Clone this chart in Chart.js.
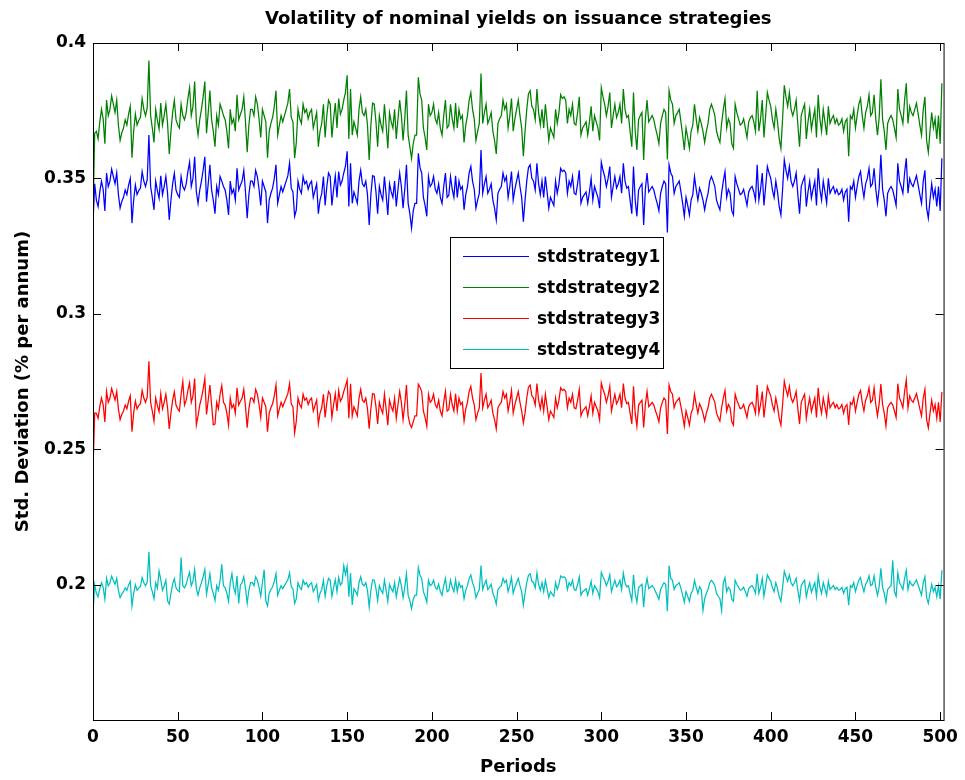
<!DOCTYPE html>
<html>
<head>
<meta charset="utf-8">
<title>Volatility of nominal yields on issuance strategies</title>
<script src="https://cdn.jsdelivr.net/npm/chart.js@4.4.1/dist/chart.umd.min.js"></script>
<style>
  html, body { margin: 0; padding: 0; background: #fff; }
  canvas { display: block; }
</style>
</head>
<body>
<canvas id="chart" width="965" height="780"></canvas>
<script>
// Valores: desvio padrão (% ao ano), um valor por período (0..501)
const stdstrategy1 = [
  0.3335, 0.3480, 0.3420, 0.3396, 0.3450, 0.3490, 0.3460, 0.3380, 0.3520, 0.3470,
  0.3490, 0.3534, 0.3507, 0.3480, 0.3520, 0.3440, 0.3390, 0.3415, 0.3430, 0.3457,
  0.3440, 0.3475, 0.3500, 0.3335, 0.3420, 0.3476, 0.3440, 0.3455, 0.3464, 0.3525,
  0.3490, 0.3470, 0.3495, 0.3660, 0.3470, 0.3430, 0.3384, 0.3490, 0.3455, 0.3427,
  0.3510, 0.3440, 0.3470, 0.3507, 0.3445, 0.3347, 0.3420, 0.3480, 0.3519, 0.3457,
  0.3440, 0.3430, 0.3507, 0.3470, 0.3457, 0.3480, 0.3525, 0.3560, 0.3470, 0.3500,
  0.3580, 0.3450, 0.3408, 0.3457, 0.3490, 0.3530, 0.3580, 0.3414, 0.3480, 0.3550,
  0.3457, 0.3420, 0.3370, 0.3470, 0.3440, 0.3507, 0.3490, 0.3470, 0.3457, 0.3420,
  0.3365, 0.3490, 0.3445, 0.3460, 0.3420, 0.3537, 0.3457, 0.3475, 0.3490, 0.3530,
  0.3450, 0.3353, 0.3440, 0.3490, 0.3490, 0.3470, 0.3530, 0.3507, 0.3460, 0.3400,
  0.3490, 0.3470, 0.3450, 0.3335, 0.3420, 0.3445, 0.3464, 0.3500, 0.3550, 0.3408,
  0.3440, 0.3470, 0.3450, 0.3470, 0.3490, 0.3510, 0.3556, 0.3464, 0.3450, 0.3360,
  0.3384, 0.3490, 0.3460, 0.3445, 0.3507, 0.3480, 0.3490, 0.3460, 0.3480, 0.3490,
  0.3430, 0.3455, 0.3480, 0.3370, 0.3420, 0.3445, 0.3507, 0.3400, 0.3470, 0.3520,
  0.3507, 0.3400, 0.3460, 0.3510, 0.3430, 0.3525, 0.3475, 0.3490, 0.3520, 0.3545,
  0.3600, 0.3396, 0.3556, 0.3408, 0.3450, 0.3430, 0.3408, 0.3490, 0.3530, 0.3480,
  0.3470, 0.3490, 0.3440, 0.3328, 0.3440, 0.3510, 0.3507, 0.3450, 0.3370, 0.3470,
  0.3440, 0.3420, 0.3507, 0.3440, 0.3365, 0.3480, 0.3450, 0.3430, 0.3490, 0.3396,
  0.3460, 0.3520, 0.3470, 0.3390, 0.3460, 0.3550, 0.3408, 0.3370, 0.3316, 0.3380,
  0.3408, 0.3408, 0.3593, 0.3540, 0.3520, 0.3430, 0.3400, 0.3360, 0.3507, 0.3470,
  0.3480, 0.3507, 0.3460, 0.3445, 0.3480, 0.3430, 0.3408, 0.3470, 0.3520, 0.3430,
  0.3438, 0.3507, 0.3460, 0.3430, 0.3510, 0.3430, 0.3490, 0.3460, 0.3470, 0.3384,
  0.3440, 0.3470, 0.3520, 0.3544, 0.3490, 0.3460, 0.3390, 0.3420, 0.3445, 0.3605,
  0.3445, 0.3480, 0.3507, 0.3445, 0.3460, 0.3480, 0.3420, 0.3390, 0.3347, 0.3445,
  0.3460, 0.3470, 0.3520, 0.3490, 0.3507, 0.3430, 0.3470, 0.3525, 0.3420, 0.3460,
  0.3490, 0.3520, 0.3470, 0.3430, 0.3340, 0.3420, 0.3490, 0.3540, 0.3550, 0.3500,
  0.3490, 0.3457, 0.3556, 0.3480, 0.3440, 0.3490, 0.3430, 0.3507, 0.3450, 0.3390,
  0.3430, 0.3415, 0.3400, 0.3490, 0.3445, 0.3480, 0.3537, 0.3525, 0.3530, 0.3520,
  0.3445, 0.3490, 0.3470, 0.3507, 0.3445, 0.3440, 0.3480, 0.3530, 0.3408, 0.3430,
  0.3440, 0.3450, 0.3408, 0.3450, 0.3500, 0.3420, 0.3470, 0.3450, 0.3430, 0.3390,
  0.3560, 0.3530, 0.3507, 0.3470, 0.3500, 0.3544, 0.3430, 0.3470, 0.3507, 0.3464,
  0.3480, 0.3507, 0.3445, 0.3556, 0.3490, 0.3464, 0.3470, 0.3420, 0.3370, 0.3544,
  0.3420, 0.3360, 0.3457, 0.3470, 0.3480, 0.3328, 0.3460, 0.3520, 0.3450, 0.3460,
  0.3470, 0.3457, 0.3430, 0.3408, 0.3380, 0.3445, 0.3470, 0.3490, 0.3480, 0.3300,
  0.3550, 0.3520, 0.3507, 0.3445, 0.3470, 0.3480, 0.3490, 0.3450, 0.3408, 0.3360,
  0.3430, 0.3400, 0.3365, 0.3420, 0.3440, 0.3507, 0.3460, 0.3420, 0.3464, 0.3445,
  0.3420, 0.3384, 0.3420, 0.3445, 0.3490, 0.3507, 0.3490, 0.3470, 0.3420, 0.3400,
  0.3384, 0.3445, 0.3490, 0.3525, 0.3430, 0.3460, 0.3445, 0.3380, 0.3365, 0.3507,
  0.3480, 0.3460, 0.3440, 0.3445, 0.3460, 0.3430, 0.3400, 0.3450, 0.3464, 0.3470,
  0.3450, 0.3420, 0.3550, 0.3420, 0.3460, 0.3520, 0.3400, 0.3470, 0.3544, 0.3520,
  0.3500, 0.3457, 0.3430, 0.3490, 0.3450, 0.3396, 0.3365, 0.3460, 0.3568, 0.3530,
  0.3500, 0.3544, 0.3490, 0.3470, 0.3490, 0.3520, 0.3440, 0.3370, 0.3470, 0.3490,
  0.3507, 0.3396, 0.3450, 0.3490, 0.3427, 0.3460, 0.3490, 0.3400, 0.3537, 0.3460,
  0.3420, 0.3490, 0.3450, 0.3408, 0.3500, 0.3445, 0.3460, 0.3470, 0.3445, 0.3460,
  0.3440, 0.3445, 0.3460, 0.3420, 0.3450, 0.3460, 0.3340, 0.3470, 0.3460, 0.3490,
  0.3430, 0.3470, 0.3507, 0.3525, 0.3470, 0.3430, 0.3480, 0.3500, 0.3537, 0.3470,
  0.3480, 0.3537, 0.3460, 0.3408, 0.3464, 0.3587, 0.3460, 0.3420, 0.3360, 0.3445,
  0.3460, 0.3470, 0.3457, 0.3430, 0.3400, 0.3556, 0.3490, 0.3470, 0.3445, 0.3520,
  0.3574, 0.3445, 0.3500, 0.3480, 0.3470, 0.3490, 0.3510, 0.3476, 0.3440, 0.3408,
  0.3490, 0.3530, 0.3390, 0.3353, 0.3420, 0.3480, 0.3430, 0.3460, 0.3396, 0.3470,
  0.3380, 0.3574
];

const stdstrategy2 = [
  0.3360, 0.3667, 0.3674, 0.3646, 0.3709, 0.3755, 0.3720, 0.3628, 0.3789, 0.3732,
  0.3755, 0.3805, 0.3774, 0.3743, 0.3789, 0.3697, 0.3640, 0.3668, 0.3686, 0.3717,
  0.3697, 0.3737, 0.3766, 0.3576, 0.3674, 0.3738, 0.3697, 0.3714, 0.3725, 0.3795,
  0.3755, 0.3732, 0.3760, 0.3935, 0.3732, 0.3686, 0.3633, 0.3755, 0.3714, 0.3682,
  0.3778, 0.3697, 0.3732, 0.3774, 0.3703, 0.3590, 0.3674, 0.3743, 0.3788, 0.3717,
  0.3697, 0.3686, 0.3774, 0.3732, 0.3717, 0.3743, 0.3795, 0.3835, 0.3732, 0.3766,
  0.3858, 0.3709, 0.3660, 0.3717, 0.3755, 0.3801, 0.3858, 0.3667, 0.3743, 0.3824,
  0.3717, 0.3674, 0.3617, 0.3732, 0.3697, 0.3774, 0.3755, 0.3732, 0.3717, 0.3674,
  0.3611, 0.3755, 0.3703, 0.3720, 0.3674, 0.3809, 0.3717, 0.3737, 0.3755, 0.3801,
  0.3709, 0.3597, 0.3697, 0.3755, 0.3755, 0.3732, 0.3801, 0.3774, 0.3720, 0.3651,
  0.3755, 0.3732, 0.3709, 0.3576, 0.3674, 0.3703, 0.3725, 0.3766, 0.3824, 0.3660,
  0.3697, 0.3732, 0.3709, 0.3732, 0.3755, 0.3778, 0.3830, 0.3725, 0.3709, 0.3575,
  0.3633, 0.3755, 0.3720, 0.3703, 0.3774, 0.3743, 0.3755, 0.3720, 0.3743, 0.3755,
  0.3686, 0.3714, 0.3743, 0.3617, 0.3674, 0.3703, 0.3774, 0.3651, 0.3732, 0.3789,
  0.3774, 0.3651, 0.3720, 0.3778, 0.3686, 0.3795, 0.3737, 0.3755, 0.3789, 0.3818,
  0.3881, 0.3646, 0.3830, 0.3660, 0.3709, 0.3686, 0.3660, 0.3755, 0.3801, 0.3743,
  0.3732, 0.3755, 0.3697, 0.3568, 0.3697, 0.3778, 0.3774, 0.3709, 0.3617, 0.3732,
  0.3697, 0.3674, 0.3774, 0.3697, 0.3611, 0.3743, 0.3709, 0.3686, 0.3755, 0.3646,
  0.3720, 0.3789, 0.3732, 0.3640, 0.3720, 0.3824, 0.3660, 0.3617, 0.3574, 0.3628,
  0.3660, 0.3660, 0.3873, 0.3812, 0.3789, 0.3686, 0.3651, 0.3605, 0.3774, 0.3732,
  0.3743, 0.3774, 0.3720, 0.3703, 0.3743, 0.3686, 0.3660, 0.3732, 0.3789, 0.3686,
  0.3695, 0.3774, 0.3720, 0.3686, 0.3778, 0.3686, 0.3755, 0.3720, 0.3732, 0.3633,
  0.3697, 0.3732, 0.3789, 0.3817, 0.3755, 0.3720, 0.3640, 0.3674, 0.3703, 0.3887,
  0.3703, 0.3743, 0.3774, 0.3703, 0.3720, 0.3743, 0.3674, 0.3640, 0.3590, 0.3703,
  0.3720, 0.3732, 0.3789, 0.3755, 0.3774, 0.3686, 0.3732, 0.3795, 0.3674, 0.3720,
  0.3755, 0.3789, 0.3732, 0.3686, 0.3582, 0.3674, 0.3755, 0.3812, 0.3824, 0.3766,
  0.3755, 0.3717, 0.3830, 0.3743, 0.3697, 0.3755, 0.3686, 0.3774, 0.3709, 0.3640,
  0.3686, 0.3668, 0.3651, 0.3755, 0.3703, 0.3743, 0.3809, 0.3795, 0.3801, 0.3789,
  0.3703, 0.3755, 0.3732, 0.3774, 0.3703, 0.3697, 0.3743, 0.3801, 0.3660, 0.3686,
  0.3697, 0.3709, 0.3660, 0.3709, 0.3766, 0.3674, 0.3732, 0.3709, 0.3686, 0.3640,
  0.3835, 0.3801, 0.3774, 0.3732, 0.3766, 0.3817, 0.3686, 0.3732, 0.3774, 0.3725,
  0.3743, 0.3774, 0.3703, 0.3830, 0.3755, 0.3725, 0.3732, 0.3674, 0.3617, 0.3817,
  0.3674, 0.3605, 0.3717, 0.3732, 0.3743, 0.3568, 0.3720, 0.3789, 0.3709, 0.3720,
  0.3732, 0.3717, 0.3686, 0.3660, 0.3628, 0.3703, 0.3732, 0.3755, 0.3743, 0.3570,
  0.3824, 0.3789, 0.3774, 0.3703, 0.3732, 0.3743, 0.3755, 0.3709, 0.3660, 0.3605,
  0.3686, 0.3651, 0.3611, 0.3674, 0.3697, 0.3774, 0.3720, 0.3674, 0.3725, 0.3703,
  0.3674, 0.3633, 0.3674, 0.3703, 0.3755, 0.3774, 0.3755, 0.3732, 0.3674, 0.3651,
  0.3633, 0.3703, 0.3755, 0.3795, 0.3686, 0.3720, 0.3703, 0.3628, 0.3611, 0.3774,
  0.3743, 0.3720, 0.3697, 0.3703, 0.3720, 0.3686, 0.3651, 0.3709, 0.3725, 0.3732,
  0.3709, 0.3674, 0.3824, 0.3674, 0.3720, 0.3789, 0.3651, 0.3732, 0.3817, 0.3789,
  0.3766, 0.3717, 0.3686, 0.3755, 0.3709, 0.3646, 0.3611, 0.3720, 0.3844, 0.3801,
  0.3766, 0.3817, 0.3755, 0.3732, 0.3755, 0.3789, 0.3697, 0.3617, 0.3732, 0.3755,
  0.3774, 0.3646, 0.3709, 0.3755, 0.3682, 0.3720, 0.3755, 0.3651, 0.3809, 0.3720,
  0.3674, 0.3755, 0.3709, 0.3660, 0.3766, 0.3703, 0.3720, 0.3732, 0.3703, 0.3720,
  0.3697, 0.3703, 0.3720, 0.3674, 0.3709, 0.3720, 0.3582, 0.3732, 0.3720, 0.3755,
  0.3686, 0.3732, 0.3774, 0.3795, 0.3732, 0.3686, 0.3743, 0.3766, 0.3809, 0.3732,
  0.3743, 0.3809, 0.3720, 0.3660, 0.3725, 0.3866, 0.3720, 0.3674, 0.3605, 0.3703,
  0.3720, 0.3732, 0.3717, 0.3686, 0.3651, 0.3830, 0.3755, 0.3732, 0.3703, 0.3789,
  0.3851, 0.3703, 0.3766, 0.3743, 0.3732, 0.3755, 0.3778, 0.3738, 0.3697, 0.3660,
  0.3755, 0.3801, 0.3640, 0.3597, 0.3674, 0.3743, 0.3686, 0.3720, 0.3646, 0.3732,
  0.3628, 0.3851
];

const stdstrategy3 = [
  0.2425, 0.2634, 0.2633, 0.2614, 0.2657, 0.2689, 0.2665, 0.2601, 0.2713, 0.2673,
  0.2689, 0.2724, 0.2703, 0.2681, 0.2713, 0.2649, 0.2609, 0.2629, 0.2641, 0.2663,
  0.2649, 0.2677, 0.2697, 0.2565, 0.2633, 0.2678, 0.2649, 0.2661, 0.2668, 0.2717,
  0.2689, 0.2673, 0.2693, 0.2825, 0.2673, 0.2641, 0.2604, 0.2689, 0.2661, 0.2639,
  0.2705, 0.2649, 0.2673, 0.2703, 0.2653, 0.2575, 0.2633, 0.2681, 0.2712, 0.2663,
  0.2649, 0.2641, 0.2703, 0.2750, 0.2663, 0.2681, 0.2717, 0.2745, 0.2673, 0.2697,
  0.2761, 0.2590, 0.2623, 0.2663, 0.2689, 0.2721, 0.2761, 0.2628, 0.2681, 0.2737,
  0.2663, 0.2590, 0.2593, 0.2673, 0.2649, 0.2703, 0.2735, 0.2673, 0.2663, 0.2633,
  0.2589, 0.2689, 0.2653, 0.2665, 0.2633, 0.2727, 0.2663, 0.2677, 0.2689, 0.2721,
  0.2657, 0.2579, 0.2649, 0.2689, 0.2689, 0.2673, 0.2721, 0.2703, 0.2665, 0.2617,
  0.2689, 0.2673, 0.2657, 0.2565, 0.2633, 0.2653, 0.2668, 0.2697, 0.2737, 0.2623,
  0.2649, 0.2673, 0.2657, 0.2673, 0.2689, 0.2705, 0.2742, 0.2668, 0.2657, 0.2560,
  0.2604, 0.2689, 0.2665, 0.2653, 0.2703, 0.2681, 0.2689, 0.2665, 0.2681, 0.2689,
  0.2641, 0.2661, 0.2681, 0.2593, 0.2633, 0.2653, 0.2703, 0.2617, 0.2673, 0.2713,
  0.2703, 0.2617, 0.2665, 0.2705, 0.2641, 0.2717, 0.2677, 0.2689, 0.2713, 0.2733,
  0.2755, 0.2614, 0.2742, 0.2623, 0.2657, 0.2641, 0.2623, 0.2689, 0.2721, 0.2681,
  0.2673, 0.2689, 0.2649, 0.2576, 0.2649, 0.2705, 0.2703, 0.2657, 0.2593, 0.2673,
  0.2649, 0.2633, 0.2703, 0.2649, 0.2589, 0.2681, 0.2657, 0.2641, 0.2689, 0.2614,
  0.2665, 0.2713, 0.2673, 0.2609, 0.2665, 0.2737, 0.2623, 0.2593, 0.2580, 0.2601,
  0.2623, 0.2623, 0.2740, 0.2729, 0.2713, 0.2641, 0.2617, 0.2585, 0.2703, 0.2673,
  0.2681, 0.2703, 0.2665, 0.2653, 0.2681, 0.2641, 0.2623, 0.2673, 0.2713, 0.2641,
  0.2647, 0.2703, 0.2665, 0.2641, 0.2705, 0.2641, 0.2689, 0.2665, 0.2673, 0.2604,
  0.2649, 0.2673, 0.2713, 0.2732, 0.2689, 0.2665, 0.2609, 0.2633, 0.2653, 0.2781,
  0.2653, 0.2681, 0.2703, 0.2653, 0.2665, 0.2681, 0.2633, 0.2609, 0.2575, 0.2653,
  0.2665, 0.2673, 0.2713, 0.2689, 0.2703, 0.2641, 0.2673, 0.2717, 0.2633, 0.2665,
  0.2689, 0.2713, 0.2673, 0.2641, 0.2597, 0.2633, 0.2689, 0.2729, 0.2737, 0.2697,
  0.2689, 0.2663, 0.2742, 0.2681, 0.2649, 0.2689, 0.2641, 0.2703, 0.2657, 0.2609,
  0.2641, 0.2629, 0.2617, 0.2689, 0.2653, 0.2681, 0.2727, 0.2717, 0.2721, 0.2713,
  0.2653, 0.2689, 0.2673, 0.2703, 0.2653, 0.2649, 0.2681, 0.2721, 0.2623, 0.2641,
  0.2649, 0.2657, 0.2623, 0.2657, 0.2697, 0.2633, 0.2673, 0.2657, 0.2641, 0.2609,
  0.2745, 0.2721, 0.2703, 0.2673, 0.2697, 0.2732, 0.2641, 0.2673, 0.2703, 0.2668,
  0.2681, 0.2703, 0.2653, 0.2742, 0.2689, 0.2668, 0.2673, 0.2633, 0.2593, 0.2732,
  0.2633, 0.2585, 0.2663, 0.2673, 0.2681, 0.2580, 0.2665, 0.2713, 0.2657, 0.2665,
  0.2673, 0.2663, 0.2641, 0.2623, 0.2601, 0.2653, 0.2673, 0.2689, 0.2681, 0.2556,
  0.2737, 0.2713, 0.2703, 0.2653, 0.2673, 0.2681, 0.2689, 0.2657, 0.2623, 0.2585,
  0.2641, 0.2617, 0.2589, 0.2633, 0.2649, 0.2703, 0.2665, 0.2633, 0.2668, 0.2653,
  0.2633, 0.2604, 0.2633, 0.2653, 0.2689, 0.2703, 0.2689, 0.2673, 0.2633, 0.2617,
  0.2604, 0.2653, 0.2689, 0.2717, 0.2641, 0.2665, 0.2653, 0.2601, 0.2589, 0.2703,
  0.2681, 0.2665, 0.2649, 0.2653, 0.2665, 0.2641, 0.2617, 0.2657, 0.2668, 0.2673,
  0.2657, 0.2633, 0.2737, 0.2633, 0.2665, 0.2713, 0.2617, 0.2673, 0.2732, 0.2713,
  0.2697, 0.2663, 0.2641, 0.2689, 0.2657, 0.2614, 0.2589, 0.2665, 0.2751, 0.2721,
  0.2697, 0.2732, 0.2689, 0.2673, 0.2689, 0.2713, 0.2649, 0.2593, 0.2673, 0.2689,
  0.2703, 0.2614, 0.2657, 0.2689, 0.2639, 0.2665, 0.2689, 0.2617, 0.2727, 0.2665,
  0.2633, 0.2689, 0.2657, 0.2623, 0.2697, 0.2653, 0.2665, 0.2673, 0.2653, 0.2665,
  0.2649, 0.2653, 0.2665, 0.2633, 0.2657, 0.2665, 0.2590, 0.2673, 0.2665, 0.2689,
  0.2641, 0.2673, 0.2703, 0.2717, 0.2673, 0.2641, 0.2681, 0.2697, 0.2727, 0.2673,
  0.2681, 0.2727, 0.2665, 0.2623, 0.2668, 0.2741, 0.2665, 0.2633, 0.2585, 0.2653,
  0.2665, 0.2673, 0.2663, 0.2641, 0.2617, 0.2742, 0.2689, 0.2673, 0.2653, 0.2713,
  0.2756, 0.2653, 0.2697, 0.2681, 0.2673, 0.2689, 0.2705, 0.2678, 0.2649, 0.2623,
  0.2689, 0.2721, 0.2609, 0.2579, 0.2633, 0.2681, 0.2641, 0.2665, 0.2614, 0.2673,
  0.2601, 0.2711
];

const stdstrategy4 = [
  0.1896, 0.2000, 0.1968, 0.1955, 0.1985, 0.2007, 0.1990, 0.1946, 0.2023, 0.1996,
  0.2007, 0.2031, 0.2016, 0.2001, 0.2023, 0.1979, 0.1952, 0.1965, 0.1974, 0.1988,
  0.1979, 0.1998, 0.2012, 0.1921, 0.1968, 0.1999, 0.1979, 0.1987, 0.1992, 0.2026,
  0.2007, 0.1996, 0.2009, 0.2120, 0.1996, 0.1974, 0.1948, 0.2007, 0.1987, 0.2050,
  0.2018, 0.1979, 0.1996, 0.2016, 0.1940, 0.1928, 0.1968, 0.2001, 0.2022, 0.1988,
  0.1979, 0.1974, 0.2100, 0.1996, 0.1988, 0.2001, 0.2026, 0.2045, 0.1996, 0.2012,
  0.2056, 0.1985, 0.1961, 0.1988, 0.2007, 0.2029, 0.2056, 0.1965, 0.2001, 0.2040,
  0.1988, 0.1968, 0.1941, 0.1996, 0.1979, 0.2016, 0.2075, 0.1996, 0.1988, 0.1968,
  0.1938, 0.2007, 0.2040, 0.1990, 0.1968, 0.2032, 0.1930, 0.1998, 0.2007, 0.2029,
  0.1985, 0.1931, 0.1979, 0.2007, 0.2007, 0.1996, 0.2029, 0.2016, 0.1990, 0.1957,
  0.2007, 0.2055, 0.1940, 0.1921, 0.1968, 0.1982, 0.1992, 0.2012, 0.2040, 0.1961,
  0.1979, 0.1996, 0.1985, 0.1996, 0.2007, 0.2018, 0.2043, 0.1992, 0.1985, 0.1930,
  0.1948, 0.2007, 0.1990, 0.1982, 0.2016, 0.2001, 0.2007, 0.1990, 0.2001, 0.2007,
  0.1974, 0.1987, 0.2001, 0.1941, 0.1968, 0.1982, 0.2016, 0.1957, 0.1996, 0.2023,
  0.2016, 0.1957, 0.1990, 0.2018, 0.1974, 0.2026, 0.1998, 0.2007, 0.2070, 0.2037,
  0.2067, 0.1955, 0.2043, 0.1925, 0.1985, 0.1974, 0.1961, 0.2007, 0.2029, 0.2001,
  0.1996, 0.2007, 0.1979, 0.1917, 0.1979, 0.2018, 0.2016, 0.1985, 0.1941, 0.1996,
  0.1979, 0.1968, 0.2016, 0.1979, 0.1938, 0.2001, 0.1985, 0.1974, 0.2007, 0.1955,
  0.1990, 0.2023, 0.1996, 0.1952, 0.1990, 0.2040, 0.1961, 0.1941, 0.1911, 0.1946,
  0.1961, 0.1961, 0.2063, 0.2034, 0.2023, 0.1974, 0.1957, 0.1935, 0.2016, 0.1996,
  0.2001, 0.2016, 0.1990, 0.1982, 0.2001, 0.1974, 0.1961, 0.1996, 0.2023, 0.1974,
  0.1978, 0.2016, 0.1990, 0.1974, 0.2018, 0.1974, 0.2007, 0.1990, 0.1996, 0.1948,
  0.1979, 0.1996, 0.2023, 0.2036, 0.2007, 0.1990, 0.1952, 0.1968, 0.1982, 0.2070,
  0.1982, 0.2001, 0.2016, 0.1982, 0.1990, 0.2001, 0.1968, 0.1952, 0.1928, 0.1982,
  0.1990, 0.1996, 0.2023, 0.2007, 0.2016, 0.1974, 0.1996, 0.2026, 0.1968, 0.1990,
  0.2007, 0.2023, 0.1996, 0.1974, 0.1924, 0.1968, 0.2007, 0.2034, 0.2040, 0.2012,
  0.2007, 0.1988, 0.2043, 0.2001, 0.1979, 0.2007, 0.1974, 0.2016, 0.1985, 0.1952,
  0.1974, 0.1965, 0.1957, 0.2007, 0.1982, 0.2001, 0.2032, 0.2026, 0.2029, 0.2023,
  0.1982, 0.2007, 0.1996, 0.2016, 0.1982, 0.1979, 0.2001, 0.2029, 0.1961, 0.1974,
  0.1979, 0.1985, 0.1961, 0.1985, 0.2012, 0.1968, 0.1996, 0.1985, 0.1974, 0.1952,
  0.2045, 0.2029, 0.2016, 0.1996, 0.2012, 0.2036, 0.1974, 0.1996, 0.2016, 0.1992,
  0.2001, 0.2016, 0.1982, 0.2043, 0.2007, 0.1992, 0.1996, 0.1968, 0.1941, 0.2036,
  0.1968, 0.1935, 0.1988, 0.1996, 0.2001, 0.1917, 0.1990, 0.2023, 0.1985, 0.1990,
  0.1996, 0.1988, 0.1974, 0.1961, 0.1946, 0.1982, 0.1996, 0.2007, 0.2001, 0.1902,
  0.2070, 0.2023, 0.2016, 0.1982, 0.1996, 0.2001, 0.2007, 0.1985, 0.1961, 0.1935,
  0.1974, 0.1957, 0.1938, 0.1968, 0.1979, 0.2016, 0.1990, 0.1968, 0.1992, 0.1982,
  0.1905, 0.1948, 0.1968, 0.1982, 0.2007, 0.2016, 0.2007, 0.1996, 0.1968, 0.1957,
  0.1948, 0.1905, 0.2007, 0.2026, 0.1974, 0.1990, 0.1982, 0.1946, 0.1938, 0.2016,
  0.2001, 0.1990, 0.1979, 0.1982, 0.1990, 0.1974, 0.1957, 0.1985, 0.1992, 0.1996,
  0.1985, 0.1968, 0.2040, 0.1968, 0.1990, 0.2023, 0.1957, 0.1996, 0.2036, 0.2023,
  0.2012, 0.1988, 0.1974, 0.2007, 0.1985, 0.1955, 0.1938, 0.1990, 0.2049, 0.2029,
  0.2012, 0.2036, 0.2007, 0.1996, 0.2007, 0.2023, 0.1979, 0.1941, 0.1996, 0.2007,
  0.2016, 0.1955, 0.1985, 0.2007, 0.1972, 0.1990, 0.2007, 0.1957, 0.2032, 0.1990,
  0.1968, 0.2007, 0.1985, 0.1961, 0.2012, 0.1982, 0.1990, 0.1996, 0.1982, 0.1990,
  0.1979, 0.1982, 0.1990, 0.1968, 0.1985, 0.1990, 0.1924, 0.1996, 0.1990, 0.2007,
  0.1974, 0.1996, 0.2016, 0.2026, 0.1996, 0.1974, 0.2001, 0.2012, 0.2032, 0.1996,
  0.2001, 0.2032, 0.1990, 0.1961, 0.1992, 0.2060, 0.1990, 0.1968, 0.1935, 0.1982,
  0.1990, 0.1996, 0.2090, 0.1974, 0.1957, 0.2043, 0.2007, 0.1996, 0.1982, 0.2023,
  0.2053, 0.1982, 0.2012, 0.2001, 0.1996, 0.2007, 0.2018, 0.1999, 0.1979, 0.1961,
  0.2007, 0.2029, 0.1952, 0.1931, 0.1968, 0.2001, 0.1974, 0.1990, 0.1955, 0.1996,
  0.1946, 0.2053
];

const seriesNames = ['stdstrategy1', 'stdstrategy2', 'stdstrategy3', 'stdstrategy4'];
const xTicks = [0, 50, 100, 150, 200, 250, 300, 350, 400, 450, 500];
const yTicks = [0.2, 0.25, 0.3, 0.35, 0.4];

const FONT = 'DejaVu Sans';
Chart.defaults.font.family = FONT;
Chart.defaults.color = '#000';

// Converte uma série em pontos {x: período, y: valor}
function toPoints(values) {
    return values.map((v, i) => ({ x: i, y: v }));
}

// Moldura, marcas internas dos eixos, título e legenda no estilo do original
const framePlugin = {
    id: 'frame',
    afterDraw(chart) {
        const { ctx, chartArea: a } = chart;
        const xs = chart.scales.x;
        const ys = chart.scales.y;
        ctx.save();

        // Marcas dos eixos (para dentro, nos quatro lados)
        ctx.strokeStyle = '#000';
        ctx.lineWidth = 1;
        ctx.beginPath();
        xTicks.forEach(v => {
            const px = Math.round(xs.getPixelForValue(v)) + 0.5;
            ctx.moveTo(px, a.bottom);
            ctx.lineTo(px, a.bottom - 8);
            ctx.moveTo(px, a.top);
            ctx.lineTo(px, a.top + 8);
        });
        yTicks.forEach(v => {
            const py = Math.round(ys.getPixelForValue(v)) + 0.5;
            ctx.moveTo(a.left, py);
            ctx.lineTo(a.left + 8, py);
            ctx.moveTo(a.right, py);
            ctx.lineTo(a.right - 8, py);
        });
        ctx.stroke();
        ctx.strokeRect(a.left + 0.5, a.top + 0.5, a.right - a.left, a.bottom - a.top);

        // Título
        ctx.fillStyle = '#000';
        ctx.font = 'bold 18px "' + FONT + '"';
        ctx.textAlign = 'center';
        ctx.textBaseline = 'middle';
        ctx.fillText('Volatility of nominal yields on issuance strategies', (a.left + a.right) / 2, 19);

        // Legenda
        const box = { x: 450.5, y: 237.5, w: 213, h: 131 };
        ctx.fillStyle = '#fff';
        ctx.fillRect(box.x, box.y, box.w, box.h);
        ctx.strokeStyle = '#000';
        ctx.strokeRect(box.x, box.y, box.w, box.h);
        ctx.font = 'bold 17px "' + FONT + '"';
        ctx.textAlign = 'left';
        chart.data.datasets.forEach((ds, i) => {
            const rowY = 256.5 + i * 31;
            ctx.strokeStyle = ds.borderColor;
            ctx.lineWidth = 1.2;
            ctx.beginPath();
            ctx.moveTo(463, rowY);
            ctx.lineTo(529, rowY);
            ctx.stroke();
            ctx.fillStyle = '#000';
            ctx.fillText(ds.label, 537, rowY + 1);
        });
        ctx.restore();
    }
};

const allSeries = [stdstrategy1, stdstrategy2, stdstrategy3, stdstrategy4];
const colors = ['#0000ff', '#008000', '#ff0000', '#00bfbf'];

new Chart(document.getElementById('chart'), {
    type: 'line',
    data: {
        datasets: allSeries.map((values, i) => ({
            label: seriesNames[i],
            data: toPoints(values),
            borderColor: colors[i],
            borderWidth: 1.25,
            pointRadius: 0,
            tension: 0,
            order: 4 - i
        }))
    },
    options: {
        responsive: false,
        animation: false,
        events: [],
        layout: { padding: { top: 43, right: 21, bottom: 0, left: 0 } },
        plugins: {
            legend: { display: false },
            title: { display: false },
            tooltip: { enabled: false }
        },
        scales: {
            x: {
                type: 'linear',
                min: 0,
                max: 502,
                afterBuildTicks: s => { s.ticks = xTicks.map(v => ({ value: v })); },
                afterFit: s => { s.height = 60; },
                grid: { display: false, drawTicks: false },
                border: { display: false },
                ticks: {
                    autoSkip: false,
                    maxRotation: 0,
                    padding: 7,
                    font: { size: 17, weight: 'bold' },
                    callback: v => String(v)
                },
                title: {
                    display: true,
                    text: 'Periods',
                    font: { size: 18, weight: 'bold' },
                    padding: { top: 0, bottom: 2 }
                }
            },
            y: {
                type: 'linear',
                min: 0.15,
                max: 0.4,
                afterBuildTicks: s => { s.ticks = yTicks.map(v => ({ value: v })); },
                afterFit: s => { s.width = 93; },
                grid: { display: false, drawTicks: false },
                border: { display: false },
                ticks: {
                    autoSkip: false,
                    padding: 7,
                    font: { size: 17, weight: 'bold' },
                    callback: v => String(v)
                },
                title: {
                    display: true,
                    text: 'Std. Deviation (% per annum)',
                    font: { size: 18, weight: 'bold' },
                    padding: { top: 13, bottom: 0 }
                }
            }
        }
    },
    plugins: [framePlugin]
});
</script>
</body>
</html>
